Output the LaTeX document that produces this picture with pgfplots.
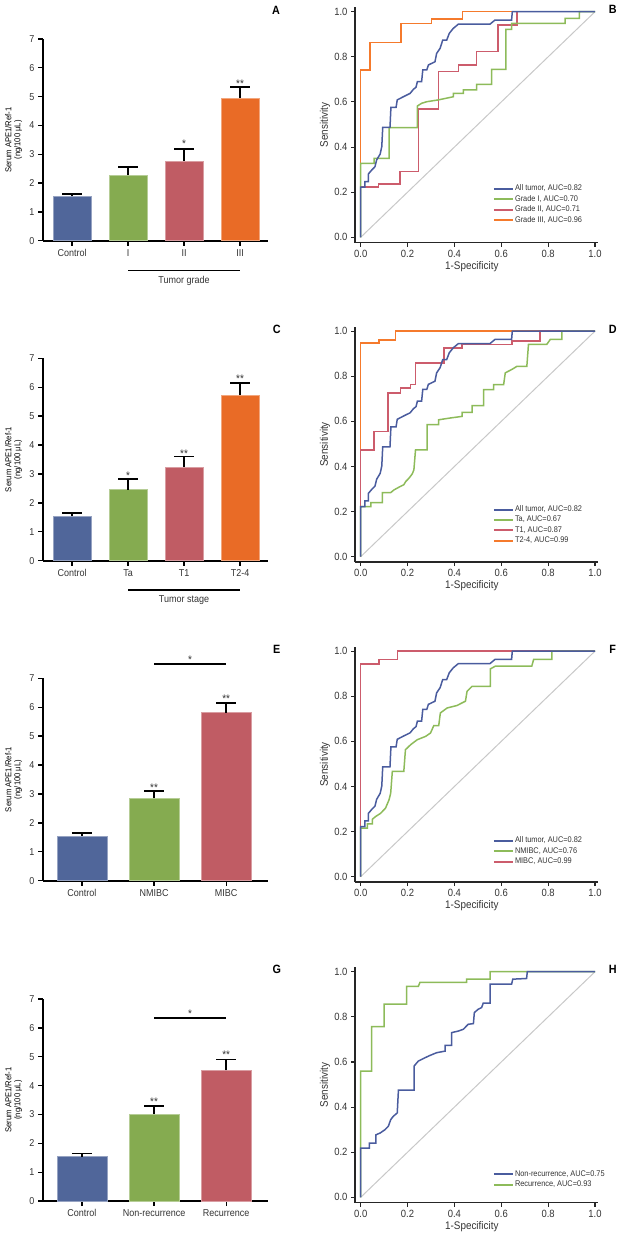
\documentclass[border=0pt]{standalone}
\usepackage{fontspec}
\setmainfont{Liberation Sans}[FakeStretch=0.9]
\usepackage{pgfplots}
\usepackage{pgfplotstable}
\pgfplotsset{compat=1.18}

\definecolor{barblue}{HTML}{50669A}
\definecolor{bargreen}{HTML}{85AB50}
\definecolor{barred}{HTML}{C05C64}
\definecolor{barorange}{HTML}{E96B26}
\definecolor{rocblue}{HTML}{4A5C9E}
\definecolor{rocgreen}{HTML}{8DBB5A}
\definecolor{rocred}{HTML}{CC5C6C}
\definecolor{rocorange}{HTML}{F57A2C}
\definecolor{txt}{HTML}{333333}
\definecolor{diag}{HTML}{C8C8C8}

% ---------- ROC data ----------
\pgfplotstableread{
x y
0 0
0 0.222
0.018 0.222
0.018 0.247
0.033 0.247
0.033 0.281
0.047 0.298
0.061 0.313
0.068 0.343
0.083 0.369
0.090 0.402
0.094 0.487
0.125 0.487
0.129 0.576
0.151 0.576
0.156 0.609
0.182 0.623
0.211 0.638
0.225 0.656
0.236 0.665
0.242 0.690
0.260 0.690
0.265 0.742
0.282 0.742
0.289 0.764
0.317 0.778
0.324 0.815
0.339 0.838
0.350 0.874
0.367 0.874
0.378 0.904
0.395 0.926
0.417 0.945
0.552 0.945
0.573 0.963
0.644 0.963
0.647 1.0
1 1
}\alltumor

\pgfplotstableread{
x y
0 0
0 0.328
0.057 0.328
0.057 0.350
0.121 0.350
0.121 0.486
0.242 0.486
0.242 0.582
0.260 0.594
0.282 0.601
0.331 0.609
0.395 0.623
0.395 0.638
0.438 0.638
0.438 0.653
0.495 0.653
0.495 0.678
0.559 0.678
0.559 0.744
0.620 0.744
0.620 0.922
0.644 0.922
0.644 0.948
0.872 0.948
0.872 0.970
0.933 0.970
0.933 1
1 1
}\gradeI

\pgfplotstableread{
x y
0 0
0 0.222
0.075 0.222
0.075 0.236
0.168 0.236
0.168 0.291
0.246 0.291
0.246 0.569
0.331 0.569
0.331 0.734
0.417 0.734
0.417 0.764
0.495 0.764
0.495 0.823
0.587 0.823
0.587 0.941
0.666 0.941
0.666 1
1 1
}\gradeII

\pgfplotstableread{
x y
0 0
0 0.742
0.040 0.742
0.040 0.863
0.171 0.863
0.171 0.948
0.303 0.948
0.303 0.968
0.435 0.968
0.435 1
1 1
}\gradeIII

\pgfplotstableread{
x y
0 0
0 0.222
0.043 0.222
0.043 0.240
0.092 0.240
0.092 0.284
0.128 0.284
0.142 0.296
0.163 0.308
0.184 0.319
0.192 0.333
0.206 0.348
0.220 0.367
0.227 0.385
0.234 0.474
0.284 0.474
0.284 0.585
0.333 0.585
0.333 0.607
0.383 0.615
0.433 0.622
0.433 0.640
0.475 0.640
0.475 0.670
0.525 0.670
0.525 0.741
0.567 0.741
0.567 0.763
0.610 0.763
0.617 0.815
0.645 0.830
0.667 0.844
0.709 0.844
0.716 0.941
0.794 0.941
0.809 0.963
0.858 0.963
0.858 1
1 1
}\stageTa

\pgfplotstableread{
x y
0 0
0 0.474
0.057 0.474
0.057 0.556
0.116 0.556
0.116 0.726
0.170 0.726
0.170 0.748
0.213 0.748
0.213 0.763
0.234 0.763
0.234 0.859
0.355 0.859
0.355 0.926
0.433 0.926
0.433 0.941
0.645 0.941
0.645 0.956
0.766 0.956
0.766 1
1 1
}\stageTI

\pgfplotstableread{
x y
0 0
0 0.948
0.078 0.948
0.078 0.960
0.149 0.960
0.149 1
1 1
}\stageTII

\pgfplotstableread{
x y
0 0
0 0.215
0.028 0.215
0.028 0.234
0.050 0.234
0.050 0.255
0.064 0.267
0.085 0.281
0.106 0.304
0.121 0.341
0.128 0.370
0.135 0.467
0.184 0.467
0.191 0.563
0.213 0.585
0.241 0.607
0.277 0.622
0.298 0.637
0.312 0.670
0.333 0.670
0.340 0.726
0.369 0.748
0.411 0.759
0.447 0.778
0.454 0.822
0.475 0.844
0.553 0.844
0.553 0.921
0.574 0.933
0.730 0.933
0.738 0.963
0.816 0.963
0.816 1
1 1
}\nmibc

\pgfplotstableread{
x y
0 0
0 0.944
0.078 0.944
0.078 0.963
0.156 0.963
0.156 1
1 1
}\mibc

\pgfplotstableread{
x y
0 0
0 0.218
0.037 0.218
0.037 0.240
0.065 0.240
0.065 0.277
0.083 0.285
0.104 0.300
0.118 0.315
0.128 0.344
0.139 0.359
0.156 0.374
0.161 0.475
0.228 0.475
0.228 0.582
0.246 0.604
0.275 0.619
0.296 0.629
0.324 0.641
0.360 0.648
0.360 0.674
0.388 0.674
0.388 0.730
0.417 0.737
0.438 0.745
0.459 0.767
0.481 0.770
0.485 0.819
0.502 0.834
0.516 0.841
0.523 0.861
0.552 0.861
0.552 0.945
0.644 0.945
0.649 0.967
0.708 0.970
0.711 1
1 1
}\nonrec

\pgfplotstableread{
x y
0 0
0 0.559
0.047 0.559
0.047 0.757
0.100 0.757
0.100 0.856
0.196 0.856
0.196 0.935
0.246 0.935
0.253 0.953
0.452 0.953
0.452 0.967
0.552 0.967
0.552 1
1 1
}\rec

\tikzset{stars/.style={anchor=base, yshift=-6.2pt, font=\fontsize{11}{12}\selectfont, text=txt, inner sep=0pt}}

\pgfplotsset{
  /pgf/number format/assume math mode=true,
  common/.style={
    scale only axis, anchor=south west, clip=false,
    axis x line*=bottom, axis y line*=left,
    tick align=outside,
  },
  barax/.style={common, width=225pt,
    ymin=0, ymax=7, ytick={0,1,2,3,4,5,6,7},
    axis line style={-, line width=1.6pt, black},
    tick style={line width=1.3pt, black},
    major tick length=5pt,
    tick label style={font=\fontsize{10}{12}\selectfont, text=txt},
    ylabel={Serum APE1/Ref-1\\(ng/100 μL)},
    ylabel style={align=center, font=\fontsize{8.5}{9}\selectfont,
      at={(axis description cs:-0.13,0.5)}, anchor=center},
  },
  mybar/.style={ybar, bar width=#1, bar shift=0pt, line width=0.7pt,
    error bars/y dir=plus, error bars/y explicit,
    error bars/error mark=|,
    error bars/error bar style={line width=1.6pt, black},
    error bars/error mark options={black, line width=1.6pt, mark size=10pt}},
  rocax/.style={common, width=243.3pt, height=235.5pt,
    xmin=-0.0243, xmax=1.014, ymin=-0.024, ymax=1.02,
    axis line style={-, line width=1.3pt, black!85},
    tick style={line width=1.1pt, black!85},
    major tick length=4pt,
    xtick={0,0.2,0.4,0.6,0.8,1}, xticklabels={0.0,0.2,0.4,0.6,0.8,1.0},
    ytick={0,0.2,0.4,0.6,0.8,1}, yticklabels={0.0,0.2,0.4,0.6,0.8,1.0},
    tick label style={font=\fontsize{10.5}{12}\selectfont, text=txt},
    xlabel={1-Specificity}, ylabel={Sensitivity},
    label style={font=\fontsize{11}{13}\selectfont, text=txt},
    xlabel style={at={(axis description cs:0.48,-0.102)}, anchor=center},
    ylabel style={at={(axis description cs:-0.123,0.5)}, anchor=center},
    legend cell align=left,
    legend image code/.code={\draw[##1, line width=1.9pt] (0pt,0pt) -- (19pt,0pt);},
    legend style={draw=none, fill=none, anchor=north west, inner sep=0pt,
      font=\fontsize{8.2}{9}\selectfont, text=txt,
      nodes={text height=6pt, text depth=2pt, inner sep=1.2pt}},
  },
  roc/.style={line width=1.5pt, forget plot},
}

\begin{document}
\begin{tikzpicture}
\useasboundingbox (0,0) rectangle (621pt,-1239pt);

% ---------- A ----------
\begin{axis}[barax, at={(43pt,-240.7pt)}, height=201.7pt, xmin=-0.52, xmax=3.5,
  xtick={0,1,2,3}, xticklabels={Control,I,II,III}]
\addplot[fill=barblue, draw=barblue!60!white, mybar=38pt] coordinates {(0,1.54) +- (0,0.09)};
\addplot[fill=bargreen, draw=bargreen!60!white, mybar=38pt] coordinates {(1,2.27) +- (0,0.28)};
\addplot[fill=barred, draw=barred!60!white, mybar=38pt] coordinates {(2,2.77) +- (0,0.42)};
\addplot[fill=barorange, draw=barorange!60!white, mybar=38pt] coordinates {(3,4.95) +- (0,0.38)};
\node[stars] at (axis cs:2,3.44) {*};
\node[stars] at (axis cs:3,5.52) {**};
\draw[line width=1.6pt] (axis cs:1,-1.04) -- (axis cs:3,-1.04);
\node[font=\fontsize{10}{12}\selectfont, text=txt] at (axis cs:2,-1.39) {Tumor grade};
\end{axis}

% ---------- C ----------
\begin{axis}[barax, at={(43pt,-560.7pt)}, height=202.4pt, xmin=-0.52, xmax=3.5,
  xtick={0,1,2,3}, xticklabels={Control,Ta,T1,T2-4}]
\addplot[fill=barblue, draw=barblue!60!white, mybar=38pt] coordinates {(0,1.53) +- (0,0.11)};
\addplot[fill=bargreen, draw=bargreen!60!white, mybar=38pt] coordinates {(1,2.46) +- (0,0.37)};
\addplot[fill=barred, draw=barred!60!white, mybar=38pt] coordinates {(2,3.24) +- (0,0.36)};
\addplot[fill=barorange, draw=barorange!60!white, mybar=38pt] coordinates {(3,5.73) +- (0,0.42)};
\node[stars] at (axis cs:1,3.02) {*};
\node[stars] at (axis cs:2,3.80) {**};
\node[stars] at (axis cs:3,6.39) {**};
\draw[line width=1.6pt] (axis cs:1,-1.01) -- (axis cs:3,-1.01);
\node[font=\fontsize{10}{12}\selectfont, text=txt] at (axis cs:2,-1.36) {Tumor stage};
\end{axis}

% ---------- E ----------
\begin{axis}[barax, at={(43pt,-880.7pt)}, height=202.4pt, xmin=-0.54, xmax=2.58,
  xtick={0,1,2}, xticklabels={Control,NMIBC,MIBC}]
\addplot[fill=barblue, draw=barblue!60!white, mybar=50pt] coordinates {(0,1.55) +- (0,0.09)};
\addplot[fill=bargreen, draw=bargreen!60!white, mybar=50pt] coordinates {(1,2.85) +- (0,0.25)};
\addplot[fill=barred, draw=barred!60!white, mybar=50pt] coordinates {(2,5.81) +- (0,0.33)};
\node[stars] at (axis cs:1,3.31) {**};
\node[stars] at (axis cs:2,6.39) {**};
\draw[line width=1.6pt] (axis cs:1,7.5) -- (axis cs:2,7.5);
\node[stars] at (axis cs:1.5,7.71) {*};
\end{axis}

% ---------- G ----------
\begin{axis}[barax, at={(43pt,-1201pt)}, height=202pt, xmin=-0.54, xmax=2.58,
  xtick={0,1,2}, xticklabels={Control,Non-recurrence,Recurrence}]
\addplot[fill=barblue, draw=barblue!60!white, mybar=50pt] coordinates {(0,1.54) +- (0,0.11)};
\addplot[fill=bargreen, draw=bargreen!60!white, mybar=50pt] coordinates {(1,3.0) +- (0,0.30)};
\addplot[fill=barred, draw=barred!60!white, mybar=50pt] coordinates {(2,4.53) +- (0,0.38)};
\node[stars] at (axis cs:1,3.53) {**};
\node[stars] at (axis cs:2,5.14) {**};
\draw[line width=1.6pt] (axis cs:1,6.34) -- (axis cs:2,6.34);
\node[stars] at (axis cs:1.5,6.56) {*};
\end{axis}

% ---------- B ----------
\begin{axis}[rocax, at={(355pt,-242.7pt)},
  legend style={at={(axis description cs:0.566,0.251)}}]
\addplot[diag, line width=1pt, forget plot] coordinates {(0,0) (1,1)};
\addplot[rocorange, roc] table {\gradeIII};
\addplot[rocred, roc] table {\gradeII};
\addplot[rocgreen, roc] table {\gradeI};
\addplot[rocblue, roc] table {\alltumor};
\addlegendimage{rocblue}\addlegendentry{All tumor, AUC=0.82}
\addlegendimage{rocgreen}\addlegendentry{Grade I, AUC=0.70}
\addlegendimage{rocred}\addlegendentry{Grade II, AUC=0.71}
\addlegendimage{rocorange}\addlegendentry{Grade III, AUC=0.96}
\end{axis}

% ---------- D ----------
\begin{axis}[rocax, at={(355pt,-562.1pt)},
  legend style={at={(axis description cs:0.566,0.246)}}]
\addplot[diag, line width=1pt, forget plot] coordinates {(0,0) (1,1)};
\addplot[rocorange, roc] table {\stageTII};
\addplot[rocred, roc] table {\stageTI};
\addplot[rocgreen, roc] table {\stageTa};
\addplot[rocblue, roc] table {\alltumor};
\addlegendimage{rocblue}\addlegendentry{All tumor, AUC=0.82}
\addlegendimage{rocgreen}\addlegendentry{Ta, AUC=0.67}
\addlegendimage{rocred}\addlegendentry{T1, AUC=0.87}
\addlegendimage{rocorange}\addlegendentry{T2-4, AUC=0.99}
\end{axis}

% ---------- F ----------
\begin{axis}[rocax, at={(355pt,-882.1pt)},
  legend style={at={(axis description cs:0.566,0.198)}}]
\addplot[diag, line width=1pt, forget plot] coordinates {(0,0) (1,1)};
\addplot[rocred, roc] table {\mibc};
\addplot[rocgreen, roc] table {\nmibc};
\addplot[rocblue, roc] table {\alltumor};
\addlegendimage{rocblue}\addlegendentry{All tumor, AUC=0.82}
\addlegendimage{rocgreen}\addlegendentry{NMIBC, AUC=0.76}
\addlegendimage{rocred}\addlegendentry{MIBC, AUC=0.99}
\end{axis}

% ---------- H ----------
\begin{axis}[rocax, at={(355pt,-1202.7pt)},
  legend style={at={(axis description cs:0.566,0.143)}}]
\addplot[diag, line width=1pt, forget plot] coordinates {(0,0) (1,1)};
\addplot[rocgreen, roc] table {\rec};
\addplot[rocblue, roc] table {\nonrec};
\addlegendimage{rocblue}\addlegendentry{Non-recurrence, AUC=0.75}
\addlegendimage{rocgreen}\addlegendentry{Recurrence, AUC=0.93}
\end{axis}

% ---------- panel letters ----------
\begin{scope}[every node/.style={font=\bfseries\fontsize{12}{14}\selectfont}]
\node at (276pt,-10pt) {A};
\node at (612.7pt,-9.3pt) {B};
\node at (276.7pt,-329.3pt) {C};
\node at (612.7pt,-329.3pt) {D};
\node at (276.7pt,-649.3pt) {E};
\node at (612.7pt,-649.3pt) {F};
\node at (276.7pt,-969.3pt) {G};
\node at (612.7pt,-969.3pt) {H};
\end{scope}
\end{tikzpicture}
\end{document}
